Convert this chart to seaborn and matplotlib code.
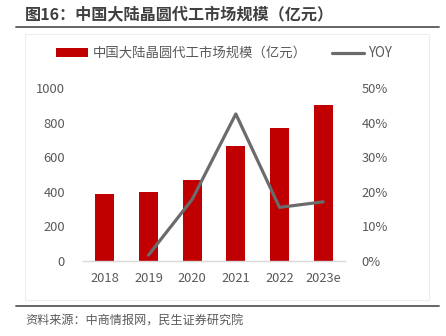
import matplotlib
matplotlib.use("Agg")
import matplotlib.pyplot as plt
import seaborn as sns
import pandas as pd
from matplotlib.patches import Patch, Rectangle
from matplotlib.lines import Line2D
from matplotlib.ticker import FuncFormatter

years = ["2018", "2019", "2020", "2021", "2022", "2023e"]
market_size = [387, 399, 468, 667, 767, 902]
yoy_years = ["2019", "2020", "2021", "2022", "2023e"]
yoy = [1.7, 17.8, 42.5, 15.5, 17.1]

title = "图16：中国大陆晶圆代工市场规模（亿元）"
bar_label = "中国大陆晶圆代工市场规模（亿元）"
line_label = "YOY"
source = "资料来源：中商情报网，民生证券研究院"

sns.set_theme(style="white")
plt.rcParams["font.family"] = ["Noto Sans CJK SC", "DejaVu Sans"]

RED = "#C00000"
GRAY_LINE = "#6B6B6B"
TXT = "#595959"

fig = plt.figure(figsize=(4.46, 3.36), dpi=100)
fig.patch.set_facecolor("white")

# faint chart-area border
fig.add_artist(Rectangle((25 / 446, 1 - 300 / 336), (429 - 25) / 446, (300 - 34) / 336,
                         transform=fig.transFigure, fill=False, edgecolor="#EDEDED", lw=0.8))

ax = fig.add_axes([83 / 446, 1 - 261 / 336, (345 - 83) / 446, (261 - 88) / 336])
df_bar = pd.DataFrame({"year": years, "size": market_size})
sns.barplot(data=df_bar, x="year", y="size", color=RED, width=0.43, ax=ax,
            saturation=1, edgecolor="none")
ax.set_ylim(0, 1000)
ax.set_xlim(-0.5, 5.5)
ax.set_yticks(range(0, 1001, 200))
ax.set_xlabel("")
ax.set_ylabel("")
for s in ["top", "right", "left"]:
    ax.spines[s].set_visible(False)
ax.spines["bottom"].set_color("#D9D9D9")
ax.spines["bottom"].set_linewidth(1.0)
ax.tick_params(axis="both", length=0, colors=TXT, labelsize=9.3)
ax.tick_params(axis="y", pad=13)
ax.tick_params(axis="x", pad=8)

ax2 = ax.twinx()
df_line = pd.DataFrame({"year": yoy_years, "yoy": yoy})
sns.lineplot(data=df_line, x="year", y="yoy", color=GRAY_LINE, lw=2.3, ax=ax2, sort=False)
ax2.set_ylim(0, 50)
ax2.set_xlim(-0.5, 5.5)
ax2.set_yticks(range(0, 51, 10))
ax2.yaxis.set_major_formatter(FuncFormatter(lambda v, p: f"{int(v)}%"))
ax2.set_ylabel("")
ax2.set_xlabel("")
for s in ["top", "right", "left", "bottom"]:
    ax2.spines[s].set_visible(False)
ax2.tick_params(axis="y", length=0, colors=TXT, labelsize=9.3, pad=12)
ax2.grid(False)
ax.grid(False)

handles = [Patch(facecolor=RED, edgecolor="none"),
           Line2D([0], [0], color=GRAY_LINE, lw=2.3)]
fig.legend(handles, [bar_label, line_label], loc="center", bbox_to_anchor=(0.502, 1 - 53 / 336),
           ncol=2, frameon=False, fontsize=9.6, labelcolor=TXT, handlelength=2.4,
           handleheight=0.6, columnspacing=1.9, handletextpad=0.3)

fig.text(25 / 446, 1 - 15 / 336, title, fontsize=11.6, fontweight="bold", color="#404040",
         va="center", ha="left")
fig.add_artist(Line2D([16 / 446, 439 / 446], [1 - 26.5 / 336] * 2, transform=fig.transFigure,
                      color="#595959", lw=1.3))
fig.add_artist(Line2D([16 / 446, 439 / 446], [1 - 305.5 / 336] * 2, transform=fig.transFigure,
                      color="#595959", lw=1.3))
fig.text(25 / 446, 1 - 321 / 336, source, fontsize=8.7, color=TXT, va="center", ha="left")

fig.savefig("out.png", dpi=100)
